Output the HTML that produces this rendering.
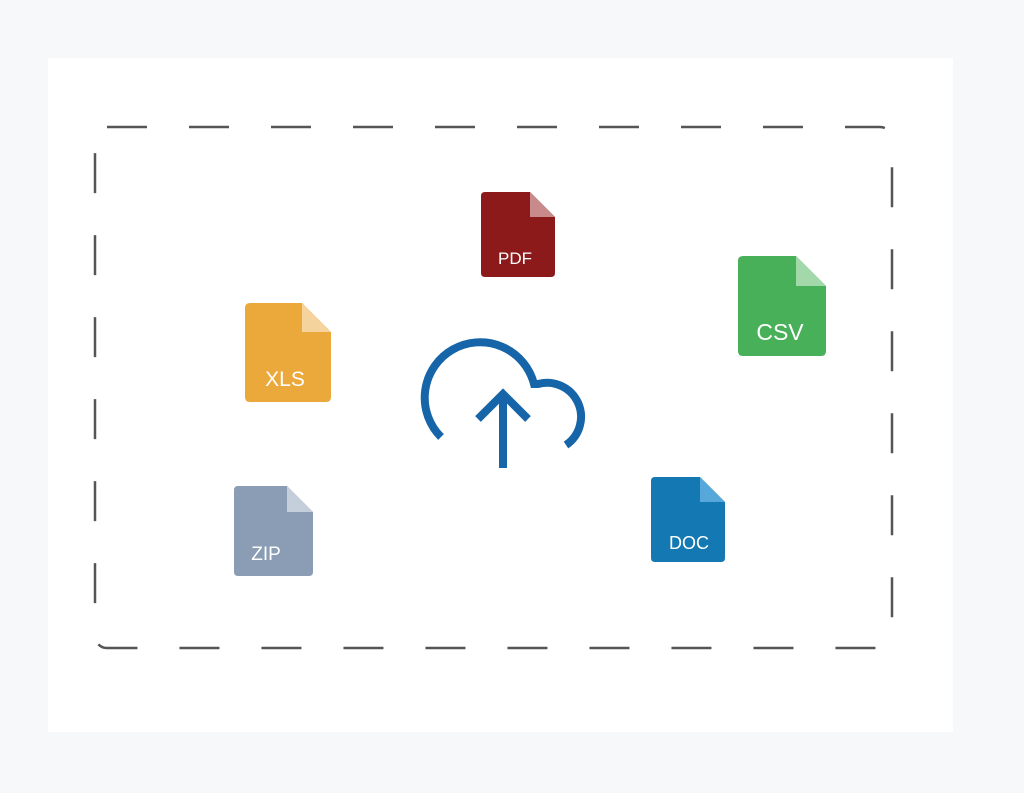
<!DOCTYPE html>
<html><head><meta charset="utf-8"><style>
html,body{margin:0;padding:0;background:#f7f8fa;}
svg{display:block}
text{font-family:"Liberation Sans",sans-serif;fill:#fff;text-anchor:middle}
</style></head><body>
<svg width="1024" height="793" viewBox="0 0 1024 793">
<rect x="0" y="0" width="1024" height="793" fill="#f7f8fa"/>
<rect x="48" y="58" width="905" height="674" fill="#fff"/>
<rect x="95" y="127" width="797" height="521" rx="12" fill="none" stroke="#555" stroke-width="2.5" stroke-dasharray="40 42" stroke-dashoffset="0"/>

<!-- PDF -->
<path d="M485 192 H530 L555 217 V273 Q555 277 551 277 H485 Q481 277 481 273 V196 Q481 192 485 192Z" fill="#8c1a1b"/>
<path d="M530 192 L555 217 H530Z" fill="#c98a8c"/>
<text x="515" y="264" font-size="17">PDF</text>

<!-- CSV -->
<path d="M743 256 H796 L826 286 V351 Q826 356 821 356 H743 Q738 356 738 351 V261 Q738 256 743 256Z" fill="#48b058"/>
<path d="M796 256 L826 286 H796Z" fill="#a3d8aa"/>
<text x="780" y="340" font-size="23">CSV</text>

<!-- XLS -->
<path d="M250 303 H302 L331 332 V397 Q331 402 326 402 H250 Q245 402 245 397 V308 Q245 303 250 303Z" fill="#eaa93a"/>
<path d="M302 303 L331 332 H302Z" fill="#f5d39c"/>
<text x="285" y="386" font-size="21">XLS</text>

<!-- ZIP -->
<path d="M238 486 H287 L313 512 V572 Q313 576 309 576 H238 Q234 576 234 572 V490 Q234 486 238 486Z" fill="#8a9db4"/>
<path d="M287 486 L313 512 H287Z" fill="#c5cfdb"/>
<text x="266" y="560" font-size="19">ZIP</text>

<!-- DOC -->
<path d="M655 477 H700 L725 502 V558 Q725 562 721 562 H655 Q651 562 651 558 V481 Q651 477 655 477Z" fill="#1479b2"/>
<path d="M700 477 L725 502 H700Z" fill="#55a8d9"/>
<text x="689" y="549" font-size="18">DOC</text>

<!-- Cloud -->
<g fill="none" stroke="#1565a8" stroke-width="8">
<path d="M441 437 A55.5 55.5 0 1 1 534 384 L538 384 A34 34 0 0 1 566 445"/>
<path d="M503 468 V395 M478 419 L503 394 L528 419"/>
</g>
</svg>
</body></html>
